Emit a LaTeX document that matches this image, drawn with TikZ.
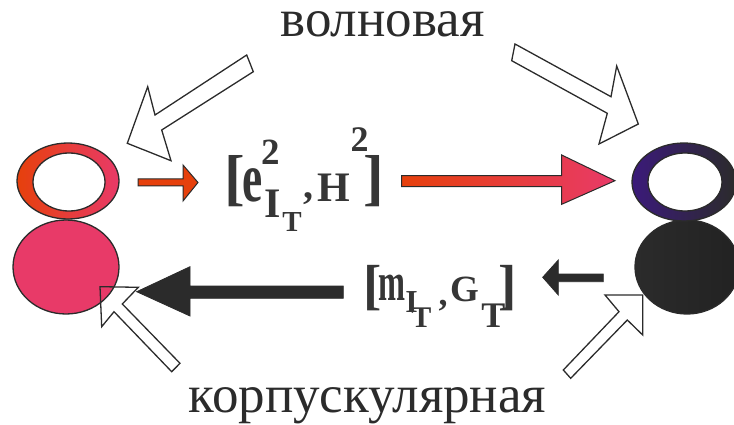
\documentclass[tikz,border=0pt]{standalone}
\usepackage{fontspec}
\setmainfont{Liberation Serif}
\usepackage{graphicx}
\definecolor{dk}{HTML}{2B2B2B}
\definecolor{gl}{HTML}{363636}
\definecolor{orng}{HTML}{E6400C}
\definecolor{pnk}{HTML}{E83A68}
\definecolor{purp}{HTML}{3B1A7A}
\definecolor{blk}{HTML}{222222}
\begin{document}
\begin{tikzpicture}[x=1pt,y=-1pt,line join=miter]
\tikzset{
  outl/.style={draw=dk,line width=1.3pt},
  hollow/.style={draw=dk,line width=1.3pt},
  g/.style={inner sep=0pt,outer sep=0pt,anchor=center,text=gl,font=\fontsize{#1}{#1}\selectfont\bfseries},
  word/.style={inner sep=0pt,anchor=base,text=dk,text height=26pt,font=\fontsize{53}{58}\selectfont},
}
\useasboundingbox (0,0) rectangle (734,425);
% left body
\path[outl,fill=pnk] (66,267) ellipse [x radius=53,y radius=47];
\path[outl,even odd rule,left color=orng,right color=pnk]
  (68,181) ellipse [x radius=51,y radius=38]
  (69,182) ellipse [x radius=36,y radius=29];
% right body
\path[outl,left color=dk,right color=blk] (687,267) ellipse [x radius=52,y radius=47];
\path[outl,even odd rule,left color=purp,right color=dk]
  (684,182) ellipse [x radius=52,y radius=39]
  (685,182) ellipse [x radius=37,y radius=29];
% small red arrow
\path[outl,line width=1pt,fill=orng] (138,179) -- (183,179) -- (183,165) -- (198,182.5)
  -- (183,201) -- (183,186) -- (138,186) -- cycle;
% big red arrow
\path[outl,line width=1pt,left color=orng,right color=pnk] (401.7,175.7) -- (561.7,175.7) -- (561.7,155)
  -- (615,180.7) -- (561.7,204.3) -- (561.7,186.7) -- (401.7,186.7) -- cycle;
% big black arrow
\path[fill=dk,draw=dk,line width=0.8pt] (343.3,286) -- (190,286) -- (190,266.7) -- (136.7,291.7)
  -- (190,316) -- (190,298.3) -- (343.3,298.3) -- cycle;
% small black arrow
\path[fill=dk,draw=dk,line width=0.8pt] (603.3,274) -- (558.3,274) -- (558.3,260) -- (542.7,277.3)
  -- (558.3,295) -- (558.3,281.7) -- (603.3,281.7) -- cycle;
% hollow arrows
\draw[hollow] (147.7,86.7) -- (127.3,143.3) -- (171,160.7) -- (161.7,130) -- (253.3,71.7)
  -- (246.7,55) -- (155,115) -- cycle;
\draw[hollow] (515,44) -- (611,96.7) -- (616.7,66) -- (638.3,124) -- (599,144)
  -- (607.3,113.3) -- (511.7,60.7) -- cycle;
\draw[hollow] (100,286.7) -- (138.3,287.3) -- (122.3,304) -- (180,363.3) -- (171.7,371.7)
  -- (114,311.7) -- (101.7,326.7) -- cycle;
\draw[hollow] (642.7,295) -- (605,295) -- (619,311.7) -- (563.3,370) -- (570.7,378.3)
  -- (627.3,320) -- (642.7,335) -- cycle;
% words
\node[word] (wave) at (382.5,37) {волновая};
\node[word] (corp) at (367.5,412) {корпускулярная};
% first label [e^2_{I_T}, H^2]
\node[g=62] (a1) at (235,181.5) {[};
\node[g=70] (a2) at (253,185) {\scalebox{0.65}[1]{e}};
\node[g=37] (a3) at (270.5,152.5) {2};
\node[g=42] (a4) at (272.5,204) {I};
\node[g=29] (a5) at (292,222) {T};
\node[g=40] (a6) at (308,199) {,};
\node[g=42] (a7) at (334,187.5) {H};
\node[g=36] (a8) at (359.5,140) {2};
\node[g=62] (a9) at (374,181.5) {]};
% second label [m_{I_T}, G_T]
\node[g=55] (b1) at (373,288.5) {[};
\node[g=54] (b2) at (391.5,287.5) {\scalebox{0.6}[1]{m}};
\node[g=32] (b3) at (411.5,302.5) {I};
\node[g=30] (b4) at (421.5,318) {T};
\node[g=36] (b5) at (443,306) {,};
\node[g=37] (b6) at (465,289.5) {G};
\node[g=36] (b7) at (493.5,315.5) {T};
\node[g=55] (b8) at (508,288.5) {]};
\end{tikzpicture}
\end{document}
